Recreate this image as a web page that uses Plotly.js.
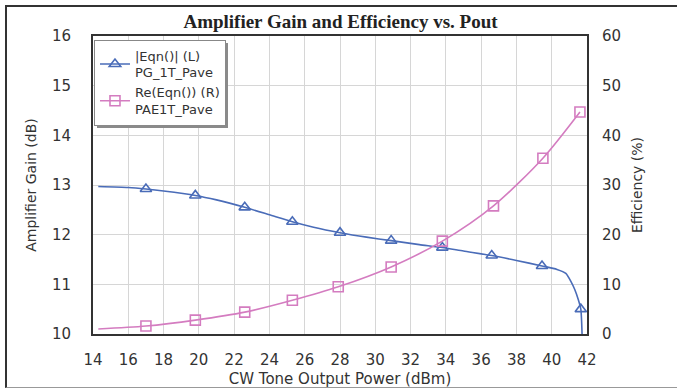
<!DOCTYPE html>
<html>
<head>
<meta charset="utf-8">
<script src="https://cdn.plot.ly/plotly-3.0.1.min.js"></script>
<style>
body{margin:0;padding:0;background:#fff;}
#wrap{position:relative;width:677px;height:390px;}
#chart{width:677px;height:390px;}
#frame{position:absolute;left:5px;top:5px;width:672px;height:383px;border-top:2px solid #333;border-left:2px solid #333;border-bottom:1px solid #999;box-sizing:border-box;pointer-events:none;}
.shadow{position:absolute;background:#8a8a8a;pointer-events:none;}
</style>
</head>
<body>
<div id="wrap"><div id="chart"></div><div id="frame"></div><div id="shR" class="shadow"></div><div id="shB" class="shadow"></div></div>
<script>
// Gain curve (left axis, dB)
const gainCurveX = [14.3, 16, 17, 18, 19.8, 21, 22.6, 24, 25.3, 26.5, 28, 29.5, 30.9, 32.5, 33.8, 35, 36.6, 38, 39.45, 40.3, 40.8, 41.1, 41.3, 41.5, 41.65, 41.72];
const gainCurveY = [12.97, 12.95, 12.92, 12.88, 12.79, 12.7, 12.55, 12.4, 12.26, 12.15, 12.04, 11.95, 11.88, 11.8, 11.74, 11.67, 11.58, 11.48, 11.37, 11.3, 11.22, 11.05, 10.9, 10.7, 10.5, 10.0];
const gainMarkX = [17, 19.8, 22.6, 25.3, 28, 30.9, 33.8, 36.6, 39.45, 41.65];
const gainMarkY = [12.92, 12.79, 12.55, 12.26, 12.04, 11.88, 11.74, 11.58, 11.37, 10.5];
// Efficiency curve (right axis, %)
const effCurveX = [14.3, 17, 19.8, 22.6, 25.3, 27.9, 30.9, 33.8, 36.7, 39.5, 41.6];
const effCurveY = [1.0, 1.6, 2.8, 4.4, 6.8, 9.5, 13.5, 18.7, 25.8, 35.4, 44.7];
const effMarkX = [17, 19.8, 22.6, 25.3, 27.9, 30.9, 33.8, 36.7, 39.5, 41.6];
const effMarkY = [1.6, 2.8, 4.4, 6.8, 9.5, 13.5, 18.7, 25.8, 35.4, 44.7];

const gainName = '|Eqn()| (L)<br>PG_1T_Pave';
const effName = 'Re(Eqn()) (R)<br>PAE1T_Pave';
const xTicks = [14,16,18,20,22,24,26,28,30,32,34,36,38,40,42];

const blue = '#4a6cb8';
const pink = '#d47cc0';

// isolate marker points with gaps so no connecting segments are drawn
function gapped(arr){const o=[];arr.forEach((v,i)=>{o.push(v);if(i<arr.length-1)o.push(null);});return o;}

const traces = [
  {x: gainCurveX, y: gainCurveY, mode:'lines', line:{color:blue,width:1.6,shape:'spline',smoothing:0.6}, showlegend:false, hoverinfo:'skip', yaxis:'y'},
  {x: gapped(gainMarkX), y: gapped(gainMarkY), mode:'lines+markers', name:gainName, connectgaps:false,
   line:{color:blue,width:1.6}, marker:{symbol:'triangle-up-open',size:10,color:blue,line:{width:1.6,color:blue}}, yaxis:'y'},
  {x: effCurveX, y: effCurveY, mode:'lines', line:{color:pink,width:1.6,shape:'spline',smoothing:0.8}, showlegend:false, hoverinfo:'skip', yaxis:'y2'},
  {x: gapped(effMarkX), y: gapped(effMarkY), mode:'lines+markers', name:effName, connectgaps:false,
   line:{color:pink,width:1.6}, marker:{symbol:'square-open',size:10,color:pink,line:{width:1.6,color:pink}}, yaxis:'y2'}
];

const font = 'DejaVu Sans, Arial, sans-serif';
const layout = {
  width:677, height:390,
  margin:{l:93, r:90, t:36, b:56},
  paper_bgcolor:'#fff', plot_bgcolor:'#fff',
  title:{text:'<b>Amplifier Gain and Efficiency vs. Pout</b>', font:{family:'Liberation Serif, Times New Roman, serif', size:19, color:'#222'}, x:0.503, xanchor:'center', y:0.945, yanchor:'middle'},
  showlegend:true,
  legend:{x:0.002, xanchor:'left', y:0.988, yanchor:'top', bgcolor:'#fff', bordercolor:'#888', borderwidth:1,
          font:{family:font, size:13, color:'#333'}, tracegroupgap:0, itemwidth:30},
  xaxis:{range:[14,42], tickvals:xTicks, ticks:'', showgrid:true, gridcolor:'#d6d6d6', gridwidth:1,
         showline:true, linecolor:'#333', linewidth:2, mirror:true, zeroline:false,
         tickfont:{family:font, size:15, color:'#333'}, ticklabelstandoff:11,
         title:{text:'CW Tone Output Power (dBm)', font:{family:font, size:15, color:'#333'}, standoff:5}},
  yaxis:{range:[10,16], dtick:1, ticks:'', showgrid:true, gridcolor:'#d6d6d6', gridwidth:1,
         showline:true, linecolor:'#333', linewidth:2, mirror:true, zeroline:false,
         tickfont:{family:font, size:15, color:'#333'}, ticklabelstandoff:17,
         title:{text:'Amplifier Gain (dB)', font:{family:font, size:14, color:'#333'}, standoff:12}},
  yaxis2:{range:[0,60], dtick:10, overlaying:'y', side:'right', ticks:'', showgrid:false, zeroline:false,
          tickfont:{family:font, size:15, color:'#333'}, ticklabelstandoff:14,
          title:{text:'Efficiency (%)', font:{family:font, size:14, color:'#333'}, standoff:12}}
};

Plotly.newPlot('chart', traces, layout, {displayModeBar:false, staticPlot:true}).then(function(gd){
  const bg = gd.querySelector('.legend rect.bg');
  if(!bg) return;
  const r = bg.getBoundingClientRect();
  const w = document.getElementById('wrap').getBoundingClientRect();
  const s = 3;
  const R = document.getElementById('shR'), B = document.getElementById('shB');
  R.style.left = (r.right - w.left) + 'px'; R.style.top = (r.top - w.top + s) + 'px';
  R.style.width = s + 'px'; R.style.height = r.height + 'px';
  B.style.left = (r.left - w.left + s) + 'px'; B.style.top = (r.bottom - w.top) + 'px';
  B.style.width = r.width + 'px'; B.style.height = s + 'px';
});
</script>
</body>
</html>
